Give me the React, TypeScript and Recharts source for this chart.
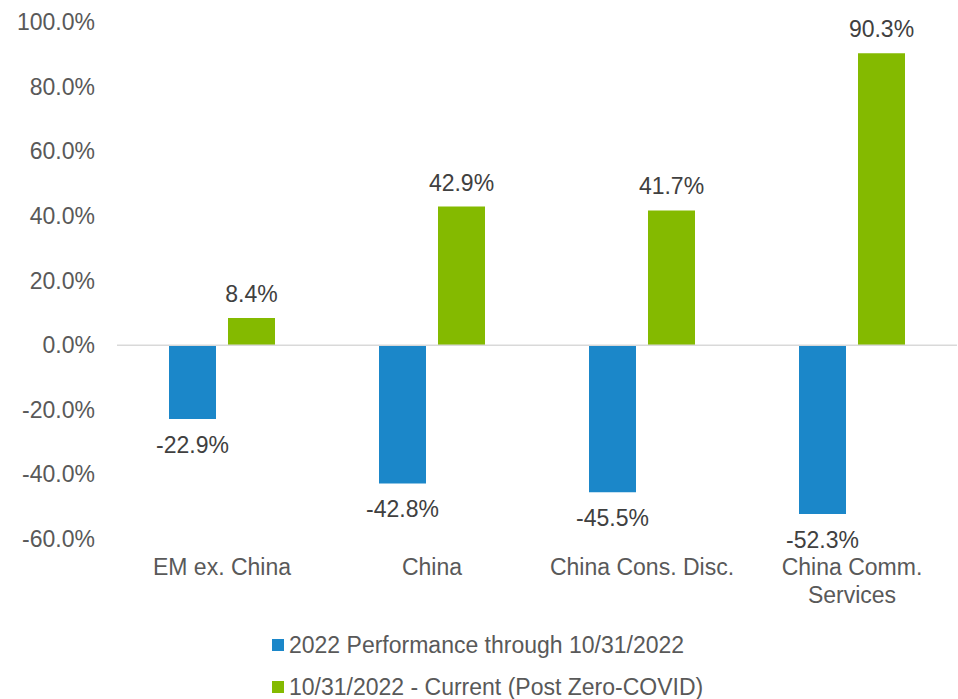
import { Bar, BarChart, LabelList, ReferenceLine, XAxis, YAxis } from "recharts";

const categories = ["EM ex. China", "China", "China Cons. Disc.", "China Comm. Services"];
const perf2022 = [-22.9, -42.8, -45.5, -52.3];
const postZeroCovid = [8.4, 42.9, 41.7, 90.3];
const yTicks = [-60, -40, -20, 0, 20, 40, 60, 80, 100];

const seriesNames = ["2022 Performance through 10/31/2022", "10/31/2022 - Current (Post Zero-COVID)"];
const BLUE = "#1b87c9";
const GREEN = "#84ba00";
const FONT = "'Liberation Sans', Arial, sans-serif";
const FS = 23;

const data = categories.map((name, i) => ({
  name,
  perf: perf2022[i],
  post: postZeroCovid[i],
}));

// greedy word wrap, about 17 characters a line
function wrap(label: string, maxChars = 17) {
  const lines: string[] = [];
  let cur = "";
  for (const w of label.split(" ")) {
    const next = cur ? cur + " " + w : w;
    if (next.length > maxChars && cur) {
      lines.push(cur);
      cur = w;
    } else {
      cur = next;
    }
  }
  if (cur) lines.push(cur);
  return lines;
}

function YTick({ y, payload }: any) {
  return (
    <text x={95} y={y} textAnchor="end" dominantBaseline="central" fontSize={FS} fill="#595959" fontFamily={FONT}>
      {payload.value.toFixed(1)}%
    </text>
  );
}

function XTick({ x, payload }: any) {
  const lines = wrap(payload.value);
  return (
    <text x={x} y={567} textAnchor="middle" dominantBaseline="central" fontSize={FS} fill="#595959" fontFamily={FONT}>
      {lines.map((l, i) => (
        <tspan key={i} x={x} dy={i === 0 ? 0 : 28}>
          {l}
        </tspan>
      ))}
    </text>
  );
}

function ValueLabel({ x, y, width, height, value }: any) {
  const top = Math.min(y, y + height);
  const bottom = Math.max(y, y + height);
  const ly = value < 0 ? bottom + 26 : top - 24;
  return (
    <text x={x + width / 2} y={ly} textAnchor="middle" dominantBaseline="central" fontSize={FS} fill="#404040" fontFamily={FONT}>
      {value.toFixed(1)}%
    </text>
  );
}

function LegendBox() {
  const colors = [BLUE, GREEN];
  return (
    <div style={{ position: "absolute", left: 272, top: 624, fontFamily: FONT, fontSize: FS, color: "#595959", whiteSpace: "nowrap" }}>
      {seriesNames.map((n, i) => (
        <div key={n} style={{ display: "flex", alignItems: "center", height: 42 }}>
          <span style={{ width: 12, height: 12, background: colors[i], marginRight: 5, display: "inline-block" }} />
          <span>{n}</span>
        </div>
      ))}
    </div>
  );
}

export default function App() {
  return (
    <div style={{ position: "absolute", left: 0, top: 0, width: 958, height: 699, background: "#fff", overflow: "hidden" }}>
      <BarChart
        width={958}
        height={699}
        data={data}
        margin={{ top: 22, right: 1, bottom: 130, left: 0 }}
        barCategoryGap={52}
        barGap={12}
      >
        <XAxis dataKey="name" height={30} axisLine={false} tickLine={false} tick={<XTick />} interval={0} />
        <YAxis width={117} domain={[-60, 100]} ticks={yTicks} axisLine={false} tickLine={false} tick={<YTick />} />
        <ReferenceLine y={0} stroke="#d9d9d9" strokeWidth={1.5} />
        <Bar dataKey="perf" fill={BLUE} isAnimationActive={false}>
          <LabelList dataKey="perf" content={<ValueLabel />} />
        </Bar>
        <Bar dataKey="post" fill={GREEN} isAnimationActive={false}>
          <LabelList dataKey="post" content={<ValueLabel />} />
        </Bar>
      </BarChart>
      <LegendBox />
    </div>
  );
}
